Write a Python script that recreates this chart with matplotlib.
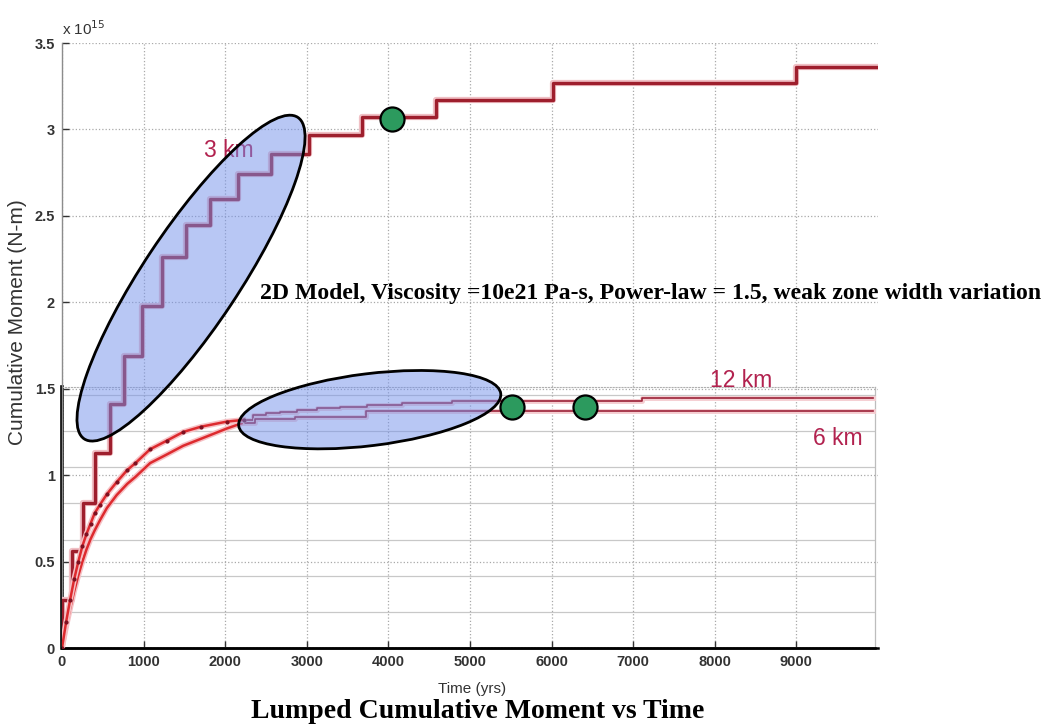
import matplotlib.pyplot as plt
import matplotlib.patheffects as pe
from matplotlib.patches import Ellipse
from matplotlib.transforms import ScaledTranslation

# lumped cumulative moment, in units of 1e15 N-m, time in years
# 3 km weak zone (big discrete steps)
t_3km = [0, 0, 120, 260, 410, 590, 765, 980, 1220, 1515, 1816, 2160, 2560,
         3030, 3680, 4580, 6020, 8990, 10000]
m_3km = [0, 0.28, 0.56, 0.84, 1.13, 1.41, 1.69, 1.98, 2.26, 2.45, 2.60, 2.74,
         2.86, 2.97, 3.07, 3.17, 3.27, 3.36, 3.36]

# 12 km weak zone: early smooth rise, then small late steps
t_12km_rise = [0, 50, 100, 150, 200, 250, 300, 350, 400, 466, 550, 670, 800,
               900, 1080, 1285, 1485, 1700, 2020, 2225]
m_12km_rise = [0, 0.15, 0.28, 0.40, 0.50, 0.59, 0.66, 0.72, 0.78, 0.83, 0.89,
               0.96, 1.03, 1.07, 1.15, 1.20, 1.25, 1.28, 1.31, 1.32]
t_12km_tail = [2225, 2344, 2500, 2675, 2883, 3129, 3411, 3742, 4172, 4785,
               7113, 9940]
m_12km_tail = [1.32, 1.348, 1.358, 1.365, 1.377, 1.386, 1.395, 1.405, 1.417,
               1.43, 1.448, 1.448]

# 6 km weak zone
t_6km_rise = [0, 50, 100, 150, 200, 250, 300, 350, 400, 466, 550, 670, 800,
              900, 1080, 1285, 1485, 1700, 2020, 2200]
m_6km_rise = [0, 0.12, 0.23, 0.33, 0.42, 0.50, 0.57, 0.63, 0.68, 0.74, 0.81,
              0.885, 0.95, 0.99, 1.07, 1.12, 1.17, 1.21, 1.27, 1.30]
t_6km_tail = [2200, 2370, 2860, 3730, 9940]
m_6km_tail = [1.30, 1.324, 1.338, 1.372, 1.372]

# highlighted events
event_t = [4050, 5520, 6410]
event_m = [3.06, 1.395, 1.395]

xticks = [0, 1000, 2000, 3000, 4000, 5000, 6000, 7000, 8000, 9000]
yticks = [0, 0.5, 1, 1.5, 2, 2.5, 3, 3.5]
ytick_labels = ['0', '0.5', '1', '1.5', '2', '2.5', '3', '3.5']

SANS = ['Liberation Sans', 'DejaVu Sans']
SERIF = ['Liberation Serif', 'DejaVu Serif']
KM_COLOR = '#b2224f'

fig = plt.figure(figsize=(10.58, 7.26), dpi=100)
ax = fig.add_axes([0.0586, 0.1074, 0.7713, 0.8333])
ax.set_xlim(0, 10000)
ax.set_ylim(0, 3.5)

ax.set_xticks(xticks)
ax.set_yticks(yticks)
ax.set_yticklabels(ytick_labels)
ax.tick_params(direction='in', length=5, width=1, colors='#333333', pad=5,
               labelsize=10.5)
for lab in ax.get_xticklabels() + ax.get_yticklabels():
    lab.set_family(SANS)
    lab.set_fontweight('bold')
ax.grid(True, linestyle=':', color='#a9a9a9', linewidth=0.9)

for side in ['top', 'right']:
    ax.spines[side].set_visible(False)
ax.spines['left'].set_color('#8c8c8c')
ax.spines['left'].set_linewidth(1.0)
ax.spines['bottom'].set_color('black')
ax.spines['bottom'].set_linewidth(1.8)

# second (lower) panel laid over the main one
ov = ax.inset_axes([0, 0, 0.9963, 0.4314], zorder=1)
ov.set_facecolor('none')
ov.set_xlim(0, 10000)
ov.set_ylim(0, 7.22)
ov.set_xticks([])
ov.set_yticks(range(1, 8))
ov.tick_params(length=0, labelleft=False)
ov.grid(axis='y', color='#c8c8c8', linewidth=0.9, linestyle='-')
ov.spines['left'].set_color('black')
ov.spines['left'].set_linewidth(2.6)
ov.spines['bottom'].set_color('black')
ov.spines['bottom'].set_linewidth(1.8)
ov.spines['right'].set_color('#bdbdbd')
ov.spines['right'].set_linewidth(0.9)
ov.spines['top'].set_color('#b0b0b0')
ov.spines['top'].set_linestyle(':')

# curves
ax.step(t_3km, m_3km, where='post', color='#9e1f2d', lw=2.4, zorder=3,
        path_effects=[pe.Stroke(linewidth=4.5, foreground='#f0c0c5'), pe.Normal()])

thin_halo = [pe.Stroke(linewidth=3.5, foreground='#f5cdd1'), pe.Normal()]
ax.step(t_12km_tail, m_12km_tail, where='post', color='#9c2238', lw=1.2,
        zorder=3, path_effects=thin_halo)
ax.step(t_6km_tail, m_6km_tail, where='post', color='#9c2238', lw=1.2,
        zorder=3, path_effects=thin_halo)

thick_halo = [pe.Stroke(linewidth=4, foreground='#f6c0c4'), pe.Normal()]
ax.plot(t_6km_rise, m_6km_rise, color='#dd2a2e', lw=1.8, zorder=3,
        path_effects=thick_halo)
ax.plot(t_12km_rise, m_12km_rise, color='#dd2a2e', lw=1.8, zorder=3,
        path_effects=thick_halo)
ax.plot(t_12km_rise, m_12km_rise, linestyle='none', marker='o',
        markersize=2.0, color='#7d1020', zorder=3)

# labels next to the curves
ax.text(2050, 2.88, '3 km', color=KM_COLOR, fontsize=16.5, family=SANS,
        ha='center', va='center', zorder=3)
ax.text(8320, 1.545, '12 km', color=KM_COLOR, fontsize=16.5, family=SANS,
        ha='center', va='center', zorder=3)
ax.text(9510, 1.215, '6 km', color=KM_COLOR, fontsize=16.5, family=SANS,
        ha='center', va='center', zorder=3)


def highlight(cx, cy, width_px, height_px, angle):
    # ellipse sized in screen pixels, centred on a data point
    tr = fig.dpi_scale_trans + ScaledTranslation(cx, cy, ax.transData)
    e = Ellipse((0, 0), width_px / fig.dpi, height_px / fig.dpi, angle=angle,
                transform=tr, facecolor=(0.45, 0.57, 0.92, 0.5),
                edgecolor='black', linewidth=2, zorder=4)
    ax.add_artist(e)


highlight(1581, 2.14, 386, 96, 56.4)
highlight(3771, 1.379, 264, 72, 7)

ax.scatter(event_t, event_m, s=300, c='#2c9a5e', edgecolors='black',
           linewidths=1.6, zorder=6)

ax.text(0, 1.013, r'x 10$^{15}$', transform=ax.transAxes, fontsize=11,
        family=SANS, color='#333333', va='baseline', ha='left')

fig.text(18 / 1058, 1 - 322 / 726, 'Cumulative Moment (N-m)', rotation=90,
         fontsize=15, family=SANS, color='#333333', ha='center', va='center')
fig.text(472 / 1058, 1 - 689 / 726, 'Time (yrs)', fontsize=11, family=SANS,
         color='#333333', ha='center', va='center')
fig.text(478 / 1058, 1 - 711 / 726, 'Lumped Cumulative Moment vs Time',
         fontsize=20, family=SERIF, fontweight='bold', ha='center',
         va='center')
fig.text(651 / 1058, 1 - 294 / 726,
         '2D Model, Viscosity =10e21 Pa-s, Power-law = 1.5, weak zone width variation',
         fontsize=17.1, family=SERIF, fontweight='bold', ha='center',
         va='center')

fig.savefig('out.png', dpi=100)
